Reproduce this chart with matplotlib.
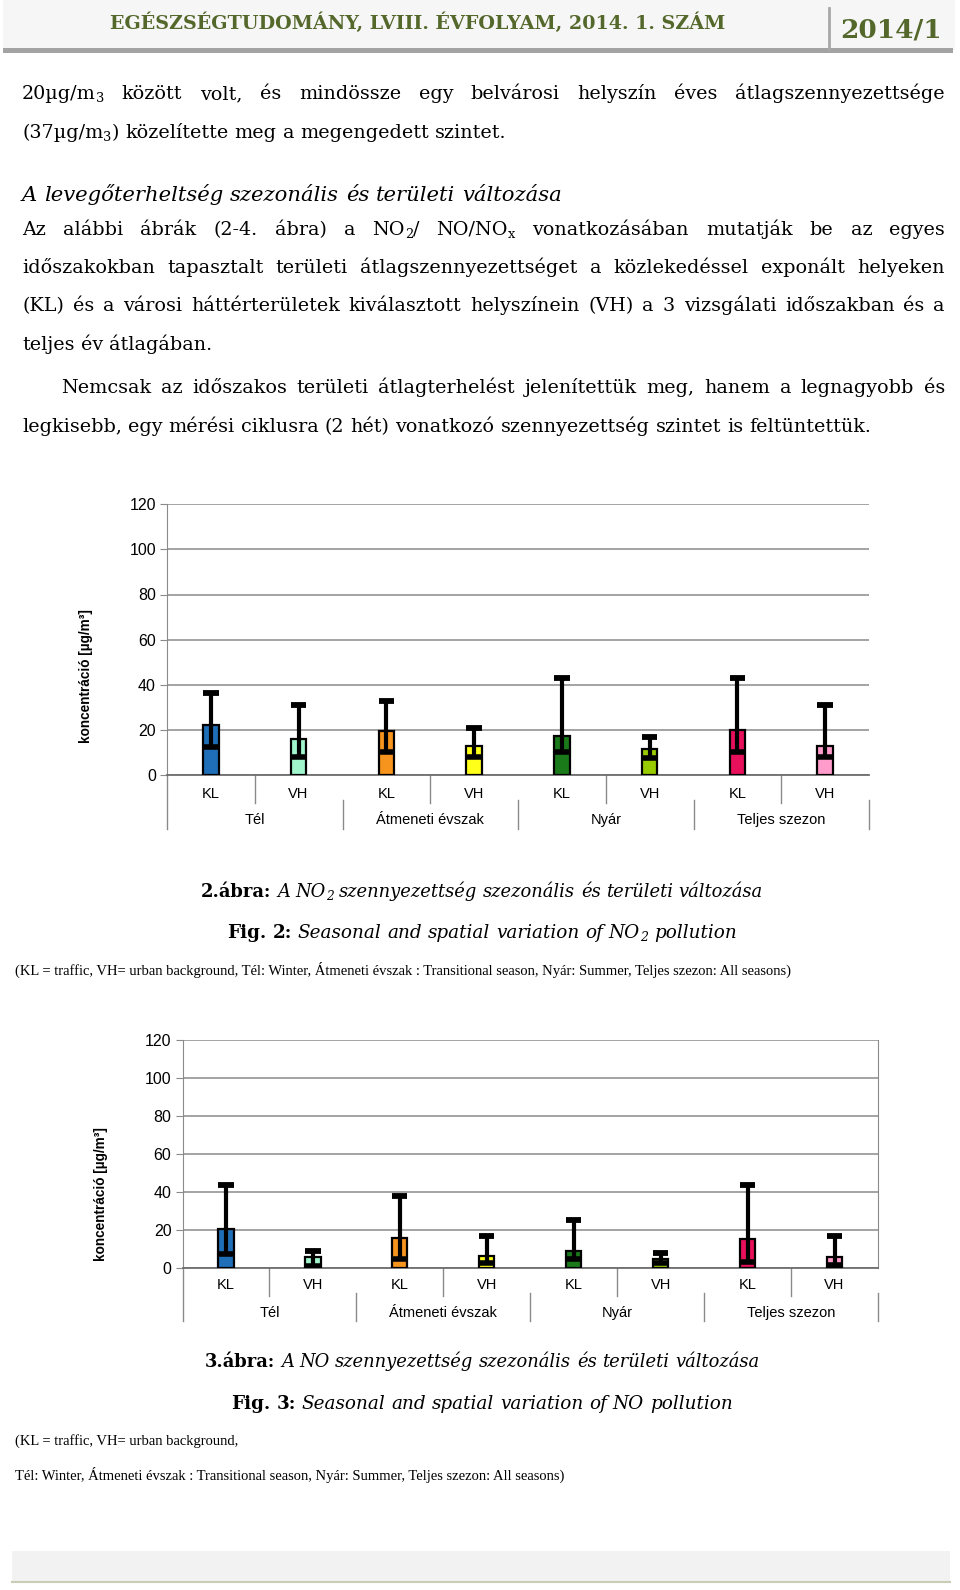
import numpy as np
import matplotlib
matplotlib.use('Agg')
import matplotlib.pyplot as plt
from matplotlib.patches import Rectangle
from matplotlib.lines import Line2D

# ---------------- data ----------------
categories = ['KL', 'VH', 'KL', 'VH', 'KL', 'VH', 'KL', 'VH']
seasons = ['Tél', 'Átmeneti évszak', 'Nyár', 'Teljes szezon']
bar_colors = ['#1f6fb8', '#a0f5cc', '#f7941d', '#ffff1a', '#1a7a1a', '#99cc00', '#e8105a', '#ff9ccc']
y_ticks = [0, 20, 40, 60, 80, 100, 120]

no2_mean = [22.5, 16.2, 19.6, 13.2, 17.6, 11.5, 19.9, 13.2]
no2_min = [12.5, 8.2, 10.3, 8.2, 10.3, 7.6, 10.3, 8.2]
no2_max = [36.5, 31.0, 33.0, 21.0, 43.0, 17.0, 43.0, 31.0]

no_mean = [20.3, 5.7, 16.0, 6.4, 9.0, 5.0, 15.1, 5.6]
no_min = [7.5, 1.2, 4.5, 2.6, 4.9, 2.8, 3.1, 1.7]
no_max = [43.8, 9.2, 37.7, 17.0, 25.4, 7.7, 43.8, 17.0]

ylabel_text = 'koncentráció [µg/m³]'

# ---------------- figure ----------------
W, H = 960, 1590
fig = plt.figure(figsize=(9.6, 15.9), dpi=100)
fig.patch.set_facecolor('white')
renderer = fig.canvas.get_renderer()

SERIF = 'DejaVu Serif'
BODY = 13.8
CAP = 12.9
NOTE_SIZE = 10.5
SANS = 'Liberation Sans'


def fx(x):
    return x / W


def fy(y):
    return 1 - y / H


def seg_props(seg, size):
    text, st = seg
    p = dict(family=st.get('family', SERIF),
             fontsize=size * (0.68 if st.get('sub') else 1.0),
             fontweight=st.get('weight', 'normal'),
             fontstyle=st.get('style', 'normal'),
             color=st.get('color', 'black'))
    return text, p, st.get('sub', False)


def norm(w, base):
    if isinstance(w, str):
        return [(w, dict(base))]
    return [(t, {**base, **s}) for t, s in w]


def seg_width(seg, size):
    text, p, sub = seg_props(seg, size)
    t = fig.text(0, 0, text, **p)
    w = t.get_window_extent(renderer).width
    t.remove()
    return w


def measure(segs, size):
    return sum(seg_width(s, size) for s in segs)


def space_w(size, base):
    a = measure(norm('a a', base), size)
    b = measure(norm('aa', base), size)
    return a - b


def draw(x, y, segs, size):
    for seg in segs:
        text, p, sub = seg_props(seg, size)
        yy = y + (size * 0.18 * 100 / 72 if sub else 0)
        t = fig.text(fx(x), fy(yy), text, va='baseline', ha='left', **p)
        x += t.get_window_extent(renderer).width
    return x


def line(y, words, x0, x1=None, size=BODY, base=None, center=None):
    base = base or {}
    ws = [norm(w, base) for w in words]
    widths = [measure(w, size) for w in ws]
    if x1 is None:
        gap = space_w(size, base)
    else:
        gap = (x1 - x0 - sum(widths)) / (len(ws) - 1)
    if center is not None:
        total = sum(widths) + gap * (len(ws) - 1)
        x0 = center - total / 2
    x = x0
    for w, wd in zip(ws, widths):
        draw(x, y, w, size)
        x += wd + gap


def note(y, text):
    fig.text(fx(15), fy(y), text, ha='left', va='baseline', family='Liberation Serif',
             fontsize=NOTE_SIZE, color='black')


# ---------------- header ----------------
fig.add_artist(Rectangle((fx(3), fy(50)), 952 / W, 50 / H, transform=fig.transFigure,
                         facecolor='#f6f6f6', edgecolor='none'))
fig.add_artist(Rectangle((fx(3), fy(53)), 950 / W, 5 / H, transform=fig.transFigure,
                         facecolor='#a3a3a3', edgecolor='none'))
fig.add_artist(Line2D([fx(829), fx(829)], [fy(8), fy(49)], transform=fig.transFigure,
                      color='#a8a8a8', lw=2))
fig.text(fx(418), fy(29), 'EGÉSZSÉGTUDOMÁNY, LVIII. ÉVFOLYAM, 2014. 1. SZÁM', ha='center',
         va='baseline', family=SERIF, fontweight='bold', fontsize=13.8, color='#55682b')
fig.text(fx(891), fy(37), '2014/1', ha='center', va='baseline', family=SERIF,
         fontweight='bold', fontsize=19, color='#55682b')

# ---------------- body text ----------------
L, R = 22, 945
sub = {'sub': True}
line(99, [[('20µg/m', {}), ('3', sub)], 'között', 'volt,', 'és', 'mindössze', 'egy', 'belvárosi',
          'helyszín', 'éves', 'átlagszennyezettsége'], L, R)
line(138, [[('(37µg/m', {}), ('3', sub), (')', {})], 'közelítette', 'meg', 'a', 'megengedett', 'szintet.'], L)
line(201, 'A levegőterheltség szezonális és területi változása'.split(), L, size=15.2,
     base={'style': 'italic'})
line(235, ['Az', 'alábbi', 'ábrák', '(2-4.', 'ábra)', 'a', [('NO', {}), ('2', sub), ('/', {})],
           [('NO/NO', {}), ('x', sub)], 'vonatkozásában', 'mutatják', 'be', 'az', 'egyes'], L, R)
line(273, 'időszakokban tapasztalt területi átlagszennyezettséget a közlekedéssel exponált helyeken'.split(), L, R)
line(311, '(KL) és a városi háttérterületek kiválasztott helyszínein (VH) a 3 vizsgálati időszakban és a'.split(), L, R)
line(350, 'teljes év átlagában.'.split(), L)
line(393, 'Nemcsak az időszakos területi átlagterhelést jelenítettük meg, hanem a legnagyobb és'.split(), 61, R)
line(432, 'legkisebb, egy mérési ciklusra (2 hét) vonatkozó szennyezettség szintet is feltüntettük.'.split(), L)


# ---------------- charts ----------------
def chart(left, right, y0, y120, mean, mn, mx, lab_y, sea_y, intra_bot, sea_top, sea_bot,
          ylab_xy, right_spine=False):
    ax = fig.add_axes([fx(left), fy(y0), (right - left) / W, (y0 - y120) / H])
    x = np.arange(len(categories))
    ax.set_xlim(-0.5, len(categories) - 0.5)
    ax.set_ylim(0, 120)
    ax.set_yticks(y_ticks)
    ax.set_yticklabels([str(v) for v in y_ticks], family=SANS, fontsize=11.5)
    ax.set_xticks([])
    ax.grid(axis='y', color='#8a8a8a', lw=1.1)
    ax.set_axisbelow(True)
    bw = 0.175
    ax.bar(x, mean, width=bw, color=bar_colors, edgecolor='black', lw=1.6, zorder=3)
    ax.vlines(x, mn, mx, color='black', lw=3.0, zorder=4)
    ax.hlines(mx, x - bw / 2, x + bw / 2, color='black', lw=4.2, zorder=4)
    ax.hlines(mn, x - bw / 2, x + bw / 2, color='black', lw=4.0, zorder=4)
    ax.spines['top'].set_visible(False)
    ax.spines['right'].set_visible(right_spine)
    ax.spines['right'].set_color('#8a8a8a')
    ax.spines['left'].set_color('#8a8a8a')
    ax.spines['bottom'].set_color('#6e6e6e')
    ax.spines['bottom'].set_linewidth(1.3)
    ax.tick_params(axis='y', length=5, color='#8a8a8a', pad=3)
    trans = ax.get_xaxis_transform()
    for i, c in enumerate(categories):
        ax.text(i, lab_y, c, ha='center', va='center', transform=trans, fontsize=10.5, family=SANS)
    for j, s in enumerate(seasons):
        ax.text(2 * j + 0.5, sea_y, s, ha='center', va='center', transform=trans, fontsize=10.5, family=SANS)
    for b in [0.5, 2.5, 4.5, 6.5]:
        ax.plot([b, b], [0, intra_bot], transform=trans, clip_on=False, color='#8a8a8a', lw=1)
    for b in [1.5, 3.5, 5.5, 7.5]:
        ax.plot([b, b], [sea_top, sea_bot], transform=trans, clip_on=False, color='#8a8a8a', lw=1)
    ax.plot([-0.5, -0.5], [0, sea_bot], transform=trans, clip_on=False, color='#8a8a8a', lw=1)
    fig.text(fx(ylab_xy[0]), fy(ylab_xy[1]), ylabel_text, rotation=90, ha='center', va='center',
             family=SANS, fontweight='bold', fontsize=9.8)
    return ax


chart(167, 869, 775.5, 504, no2_mean, no2_min, no2_max,
      lab_y=-0.068, sea_y=-0.165, intra_bot=-0.10, sea_top=-0.09, sea_bot=-0.197,
      ylab_xy=(86, 676))
chart(182.5, 878, 1268, 1040, no_mean, no_min, no_max,
      lab_y=-0.075, sea_y=-0.197, intra_bot=-0.123, sea_top=-0.11, sea_bot=-0.232,
      ylab_xy=(101, 1194), right_spine=True)

# ---------------- captions ----------------
B = {'weight': 'bold'}
I = {'style': 'italic'}
IS = {'style': 'italic', 'sub': True}
line(897, [[('2.ábra:', B)], [('A', I)], [('NO', I), ('2', IS)], [('szennyezettség', I)], [('szezonális', I)],
           [('és', I)], [('területi', I)], [('változása', I)]], 0, size=CAP, center=482)
line(938, [[('Fig.', B)], [('2:', B)], [('Seasonal', I)], [('and', I)], [('spatial', I)], [('variation', I)],
           [('of', I)], [('NO', I), ('2', IS)], [('pollution', I)]], 0, size=13.2, center=482)
note(975, '(KL = traffic, VH= urban background, Tél: Winter, Átmeneti évszak : Transitional season, '
          'Nyár: Summer, Teljes szezon: All seasons)')

line(1367, [[('3.ábra:', B)], [('A', I)], [('NO', I)], [('szennyezettség', I)], [('szezonális', I)],
            [('és', I)], [('területi', I)], [('változása', I)]], 0, size=CAP, center=482)
line(1409, [[('Fig.', B)], [('3:', B)], [('Seasonal', I)], [('and', I)], [('spatial', I)], [('variation', I)],
            [('of', I)], [('NO', I)], [('pollution', I)]], 0, size=13.2, center=482)
note(1445, '(KL = traffic, VH= urban background,')
note(1480, 'Tél: Winter, Átmeneti évszak : Transitional season, Nyár: Summer, Teljes szezon: All seasons)')

# ---------------- footer ----------------
fig.add_artist(Rectangle((fx(12), fy(1581)), 938 / W, 30 / H, transform=fig.transFigure,
                         facecolor='#f2f2f2', edgecolor='none'))
fig.add_artist(Line2D([fx(12), fx(950)], [fy(1582), fy(1582)], transform=fig.transFigure,
                      color='#c9cdb5', lw=1.5))

fig.savefig('out.png', dpi=100)
